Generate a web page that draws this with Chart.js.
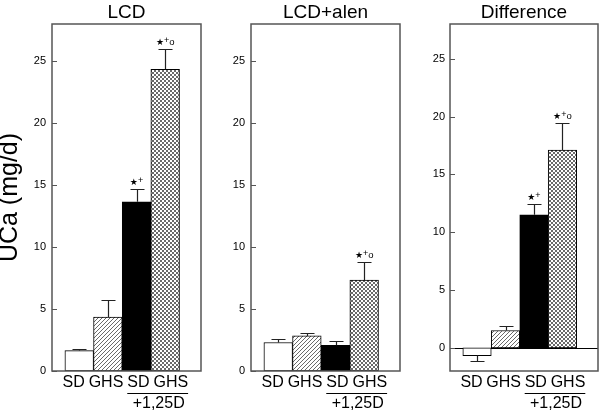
<!DOCTYPE html>
<html><head><meta charset="utf-8">
<script src="https://cdn.jsdelivr.net/npm/chart.js@4.4.1/dist/chart.umd.min.js"></script>
<style>
html,body{margin:0;padding:0;background:#fff;}
#wrap{position:relative;width:600px;height:416px;overflow:hidden;background:#fff;}
canvas{position:absolute;top:0;}
</style></head><body>
<div id="wrap">
<canvas id="c1" width="215" height="416" style="left:0px;width:215px;height:416px"></canvas>
<canvas id="c2" width="190" height="416" style="left:215px;width:190px;height:416px"></canvas>
<canvas id="c3" width="195" height="416" style="left:405px;width:195px;height:416px"></canvas>
</div>
<script>
// ---- data ----
const xLabels = ['SD', 'GHS', 'SD', 'GHS'];
const yTicks = [0, 5, 10, 15, 20, 25];
const groupLabel = '+1,25D';
const yTitle = 'UCa (mg/d)';

const lcdTitle = 'LCD';
const lcdValues = [1.65, 4.35, 13.66, 24.35];
const lcdErrors = [0.15, 1.4, 1.0, 1.65];
const lcdMarks = ['', '', '★+', '★+o'];

const alenTitle = 'LCD+alen';
const alenValues = [2.3, 2.83, 2.08, 7.34];
const alenErrors = [0.27, 0.27, 0.32, 1.42];
const alenMarks = ['', '', '', '★+o'];

const diffTitle = 'Difference';
const diffValues = [-0.67, 1.5, 11.5, 17.1];
const diffErrors = [0.43, 0.35, 0.95, 2.3];
const diffMarks = ['', '', '★+', '★+o'];

// ---- styling ----
const FONT = "'Liberation Sans', Arial, Helvetica, sans-serif";
Chart.defaults.font.family = FONT;
Chart.defaults.color = '#000';
const FRAME = '#555';
const labelSpread = 1.13;

function hatchPattern() {
  const c = document.createElement('canvas'); c.width = 4; c.height = 4;
  const g = c.getContext('2d');
  g.fillStyle = '#fff'; g.fillRect(0, 0, 4, 4);
  g.strokeStyle = '#444'; g.lineWidth = 0.8;
  g.beginPath();
  g.moveTo(0, 4); g.lineTo(4, 0);
  g.moveTo(-1, 1); g.lineTo(1, -1);
  g.moveTo(3, 5); g.lineTo(5, 3);
  g.stroke();
  return g.createPattern(c, 'repeat');
}
function checkerPattern() {
  const c = document.createElement('canvas'); c.width = 4; c.height = 4;
  const g = c.getContext('2d');
  g.fillStyle = '#fff'; g.fillRect(0, 0, 4, 4);
  g.fillStyle = '#6a6a6a';
  g.fillRect(0, 0, 2, 2); g.fillRect(2, 2, 2, 2);
  return g.createPattern(c, 'repeat');
}

function drawMark(ctx, text, cx, baseY) {
  const parts = [];
  for (const ch of text) {
    if (ch === '★') parts.push({ch, font: "9px 'DejaVu Sans'", dy: 0});
    else if (ch === '+') parts.push({ch, font: '9px ' + FONT, dy: -2});
    else parts.push({ch, font: '9.5px ' + FONT, dy: 0});
  }
  let total = 0;
  parts.forEach(p => { ctx.font = p.font; p.w = ctx.measureText(p.ch).width; total += p.w; });
  let x = cx - total / 2;
  ctx.fillStyle = '#000';
  ctx.textAlign = 'left'; ctx.textBaseline = 'alphabetic';
  parts.forEach(p => { ctx.font = p.font; ctx.fillText(p.ch, x, baseY + p.dy); x += p.w; });
}

const panelPlugin = {
  id: 'panel',
  beforeDatasetsDraw(chart, args, opts) {
    if (!opts.zeroLine) return;
    const {ctx, chartArea: a, scales: {y}} = chart;
    const py = Math.round(y.getPixelForValue(0)) + 0.5;
    ctx.save();
    ctx.strokeStyle = '#000'; ctx.lineWidth = 1;
    ctx.beginPath(); ctx.moveTo(a.left, py); ctx.lineTo(a.right, py); ctx.stroke();
    ctx.restore();
  },
  afterDatasetsDraw(chart) {
    const {ctx, scales: {y}} = chart;
    const ds = chart.data.datasets[0];
    const meta = chart.getDatasetMeta(0);
    ctx.save();
    meta.data.forEach((el, i) => {
      const v = ds.data[i].y, e = ds.errors[i];
      const end = v < 0 ? v - e : v + e;
      const px = Math.round(el.x) + 0.5;
      const p0 = el.y, p1 = Math.round(y.getPixelForValue(end)) + 0.5;
      ctx.strokeStyle = '#222'; ctx.lineWidth = 1.2;
      ctx.beginPath();
      ctx.moveTo(px, p0); ctx.lineTo(px, p1);
      ctx.moveTo(px - 7, p1); ctx.lineTo(px + 7, p1);
      ctx.stroke();
      if (ds.marks[i]) drawMark(ctx, ds.marks[i], el.x, p1 - 5);
    });
    ctx.restore();
  },
  afterDraw(chart) {
    const {ctx, chartArea: a, scales: {x, y}} = chart;
    ctx.save();
    ctx.strokeStyle = FRAME; ctx.lineWidth = 1.5;
    ctx.strokeRect(a.left, a.top, a.right - a.left, a.bottom - a.top);
    ctx.lineWidth = 1;
    ctx.beginPath();
    y.ticks.forEach(t => {
      const py = Math.round(y.getPixelForValue(t.value)) + 0.5;
      ctx.moveTo(a.left, py); ctx.lineTo(a.left + 5, py);
    });
    ctx.stroke();
    // group label under the last two categories
    ctx.font = '16px ' + FONT;
    const l2 = x.getPixelForValue(x.ticks[2].value) - ctx.measureText(xLabels[2]).width / 2;
    const l3 = x.getPixelForValue(x.ticks[3].value) + ctx.measureText(xLabels[3]).width / 2;
    const ly = a.bottom + 22.5;
    ctx.strokeStyle = '#000'; ctx.lineWidth = 1;
    ctx.beginPath(); ctx.moveTo(l2, ly); ctx.lineTo(l3, ly); ctx.stroke();
    ctx.fillStyle = '#000'; ctx.textAlign = 'center'; ctx.textBaseline = 'middle';
    ctx.fillText(groupLabel, (l2 + l3) / 2 + 1, ly + 10);
    ctx.restore();
  }
};

function makePanel(id, title, values, errors, marks, opt) {
  return new Chart(document.getElementById(id), {
    type: 'bar',
    data: {
      datasets: [{
        data: values.map((v, i) => ({x: i, y: v})),
        errors: errors,
        marks: marks,
        backgroundColor: ['#fff', hatchPattern(), '#000', checkerPattern()],
        borderColor: '#000',
        borderWidth: 1,
        borderSkipped: false,
        barPercentage: 1,
        categoryPercentage: 1
      }]
    },
    options: {
      responsive: false,
      animation: false,
      devicePixelRatio: 1,
      layout: {padding: {left: 0, right: opt.padRight, top: 0, bottom: 0}},
      plugins: {
        legend: {display: false},
        tooltip: {enabled: false},
        title: {display: true, text: title, fullSize: false, color: '#000',
                font: {size: 19, lineHeight: 1.1, weight: 'normal'}, padding: {top: 2.6, bottom: 0.5}},
        panel: {zeroLine: opt.zeroLine}
      },
      scales: {
        x: {
          type: 'linear', min: -0.95, max: 4.25, offset: false,
          grid: {display: false, drawTicks: false, tickLength: 0, offset: false},
          border: {display: false},
          afterBuildTicks: s => { s.ticks = xLabels.map((_, i) => ({value: 1.5 + (i - 1.5) * labelSpread})); },
          afterFit: s => { s.height = 45; },
          ticks: {autoSkip: false, maxRotation: 0, minRotation: 0, padding: 2, color: '#000',
                  font: {size: 16}, callback: (v, i) => xLabels[i]}
        },
        y: {
          min: opt.yMin, max: 28,
          grid: {display: false, drawTicks: false, tickLength: 0},
          border: {display: false},
          afterBuildTicks: s => { s.ticks = yTicks.map(v => ({value: v})); },
          afterFit: s => { s.width = opt.axisWidth; },
          ticks: {padding: opt.tickPad, color: '#000', font: {size: 11}, callback: v => String(v)},
          title: opt.showTitle
            ? {display: true, text: yTitle, color: '#000', font: {size: 25, lineHeight: 0.8}, padding: 0}
            : {display: false}
        }
      }
    },
    plugins: [panelPlugin]
  });
}

makePanel('c1', lcdTitle, lcdValues, lcdErrors, lcdMarks,
  {padRight: 14, axisWidth: 52, tickPad: 6, yMin: 0, zeroLine: false, showTitle: true});
makePanel('c2', alenTitle, alenValues, alenErrors, alenMarks,
  {padRight: 5, axisWidth: 36, tickPad: 6, yMin: 0, zeroLine: false, showTitle: false});
makePanel('c3', diffTitle, diffValues, diffErrors, diffMarks,
  {padRight: 2, axisWidth: 45, tickPad: 5, yMin: -2, zeroLine: true, showTitle: false});
</script>
</body></html>
